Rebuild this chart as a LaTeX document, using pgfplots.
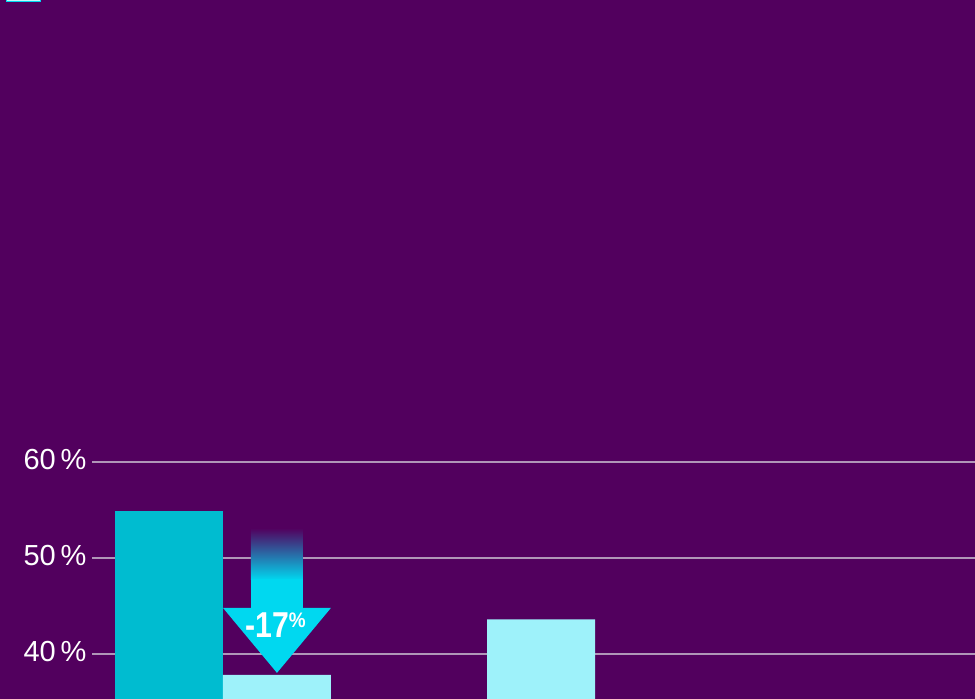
\documentclass[border=0pt]{standalone}
\usepackage{fontspec}
\setmainfont{Liberation Sans}
\usepackage{pgfplots}
\pgfplotsset{compat=1.18}
\definecolor{bg}{RGB}{82,0,94}
\definecolor{darkcyan}{RGB}{0,188,208}
\definecolor{lightcyan}{RGB}{158,242,250}
\definecolor{arrowcyan}{RGB}{0,216,240}
\definecolor{gridc}{RGB}{176,150,184}
\begin{document}
\begin{tikzpicture}
\fill[bg] (0,0) rectangle (975pt,699pt);
% cut-off legend key at the top edge
\fill[lightcyan!60!white, draw=arrowcyan, line width=0.6pt] (6pt,697.6pt) rectangle (40pt,700pt);
\begin{axis}[
    at={(92pt,0pt)}, anchor=south west,
    scale only axis, width=883pt, height=699pt,
    xmin=-0.496, xmax=2.848, ymin=35.3, ymax=108.1,
    axis line style={draw=none},
    xtick=\empty, ytick={40,50,60},
    major tick length=0pt,
    ymajorgrids, grid style={line width=2pt, color=gridc},
    yticklabel={\pgfmathprintnumber{\tick}\,\%},
    yticklabel style={font=\fontsize{29}{31}\selectfont, text=white, xshift=-2pt, yshift=2pt},
    /pgf/number format/assume math mode=true,
    ybar, bar width=0.409,
]
\addplot[fill=darkcyan, draw=none, bar shift=-0.2045] coordinates {(0,54.9)};
\addplot[fill=lightcyan, draw=none, bar shift=0.2045] coordinates {(0,37.8) (1,43.6)};
% change arrow
\shade[top color=bg, bottom color=arrowcyan] (axis cs:0.106,53.1) rectangle (axis cs:0.303,47.7);
\fill[arrowcyan] (axis cs:0.106,47.75) rectangle (axis cs:0.303,44.75);
\fill[arrowcyan] (axis cs:0,44.79) -- (axis cs:0.409,44.79) -- (axis cs:0.2045,38.02) -- cycle;
\node[text=white, anchor=base, inner sep=0pt] at (axis cs:0.199,41.66)
  {\scalebox{0.84}[1]{\bfseries\fontsize{36}{36}\selectfont -17}\raisebox{10pt}{\scalebox{0.9}[1]{\bfseries\fontsize{21}{21}\selectfont\%}}};
\end{axis}
\pgfresetboundingbox
\useasboundingbox (0,0) rectangle (975pt,699pt);
\end{tikzpicture}
\end{document}
